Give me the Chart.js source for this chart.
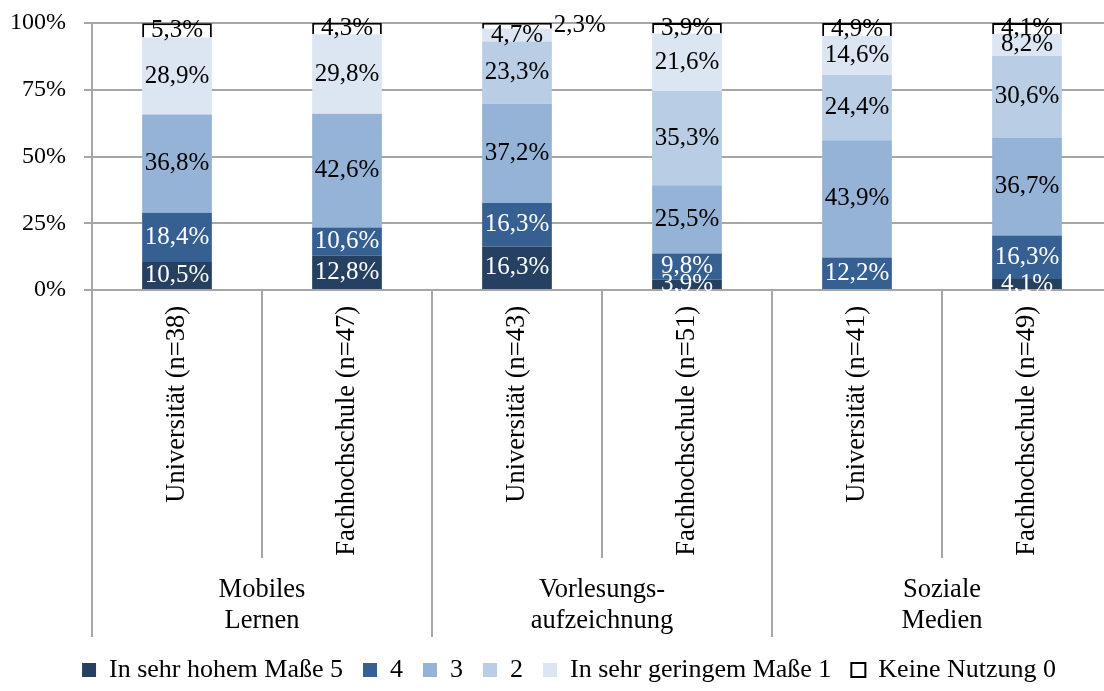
<!DOCTYPE html>
<html>
<head>
<meta charset="utf-8">
<script src="https://cdn.jsdelivr.net/npm/chart.js@4"></script>
<style>
  html, body { margin: 0; padding: 0; overflow: hidden; background: #fff; }
  #wrap { width: 1112px; height: 691px; }
</style>
</head>
<body>
<div id="wrap"><canvas id="myChart" width="1112" height="691"></canvas></div>
<script>
const categories = [
    'Universität (n=38)',
    'Fachhochschule (n=47)',
    'Universität (n=43)',
    'Fachhochschule (n=51)',
    'Universität (n=41)',
    'Fachhochschule (n=49)',
]
const groups = [
    ['Mobiles', 'Lernen'],
    ['Vorlesungs-', 'aufzeichnung'],
    ['Soziale', 'Medien'],
]
const seriesNames = [
    'In sehr hohem Maße 5',
    '4',
    '3',
    '2',
    'In sehr geringem Maße 1',
    'Keine Nutzung 0',
]
const level5 = [10.5, 12.8, 16.3, 3.9, 0, 4.1]
const level4 = [18.4, 10.6, 16.3, 9.8, 12.2, 16.3]
const level3 = [36.8, 42.6, 37.2, 25.5, 43.9, 36.7]
const level2 = [0, 0, 23.3, 35.3, 24.4, 30.6]
const level1 = [28.9, 29.8, 4.7, 21.6, 14.6, 8.2]
const level0 = [5.3, 4.3, 2.3, 3.9, 4.9, 4.1]
const yTicks = [0, 25, 50, 75, 100]

const fontFamily = "'Liberation Serif', 'Times New Roman', serif"
const gridGrey = '#a6a6a6'
const colors = ['#254061', '#376092', '#95b3d7', '#b9cde5', '#dce6f2', '#ffffff']

Chart.defaults.font.family = fontFamily
Chart.defaults.font.size = 26
Chart.defaults.color = '#000'

const seriesData = [level5, level4, level3, level2, level1, level0]
const datasets = seriesData.map((vals, i) => ({
    label: seriesNames[i],
    data: vals,
    backgroundColor: colors[i],
    borderColor: i === 5 ? '#000' : colors[i],
    borderWidth: i === 5 ? 2 : 0,
    barPercentage: 0.41,
    categoryPercentage: 1,
}))

// percentage labels in the middle of each segment
const valueLabels = {
    id: 'valueLabels',
    afterDatasetsDraw(chart) {
        const ctx = chart.ctx
        ctx.save()
        ctx.font = '25px ' + fontFamily
        ctx.textBaseline = 'middle'
        chart.data.datasets.forEach((ds, i) => {
            chart.getDatasetMeta(i).data.forEach((bar, j) => {
                const v = ds.data[j]
                if (!v) return
                const txt = v.toFixed(1).replace('.', ',') + '%'
                let x = bar.x
                const y = (bar.y + Math.min(bar.base, chart.chartArea.bottom)) / 2
                ctx.textAlign = 'center'
                if (v < 3) {
                    // too thin, put it next to the bar
                    x = bar.x + bar.width / 2 + 2
                    ctx.textAlign = 'left'
                }
                ctx.fillStyle = i < 2 ? '#fff' : '#000'
                ctx.fillText(txt, x, y)
            })
        })
        ctx.restore()
    }
}

// separators and group names under the category labels
const groupAxis = {
    id: 'groupAxis',
    afterLayout(chart) {
        // legend sits a bit right of the canvas centre
        chart.legend.left += 26
    },
    afterDraw(chart) {
        const xs = chart.scales.x
        const ctx = chart.ctx
        const step = xs.width / categories.length
        ctx.save()
        ctx.strokeStyle = gridGrey
        ctx.lineWidth = 2
        for (let i = 0; i <= categories.length; i++) {
            const px = Math.round(xs.left + i * step)
            const end = i % 2 === 0 ? xs.top + 347 : xs.top + 268
            ctx.beginPath()
            ctx.moveTo(px, xs.top)
            ctx.lineTo(px, end)
            ctx.stroke()
        }
        ctx.fillStyle = '#000'
        ctx.font = '26.5px ' + fontFamily
        ctx.textAlign = 'center'
        ctx.textBaseline = 'middle'
        groups.forEach((g, k) => {
            const cx = xs.left + (2 * k + 1) * step
            g.forEach((line, n) => ctx.fillText(line, cx, xs.top + 300 + n * 31))
        })
        ctx.restore()
    }
}

const config = {
    type: 'bar',
    data: {
        labels: categories,
        datasets: datasets,
    },
    options: {
        responsive: false,
        animation: false,
        layout: { padding: { top: 23, left: 0, right: 0, bottom: 0 } },
        plugins: {
            legend: {
                position: 'bottom',
                maxHeight: 54,
                labels: {
                    boxWidth: 14,
                    boxHeight: 14,
                    padding: 20,
                    font: { size: 26 },
                    color: '#000',
                }
            },
            tooltip: { enabled: false },
        },
        scales: {
            x: {
                stacked: true,
                grid: { display: false },
                border: { display: false },
                ticks: {
                    autoSkip: false,
                    minRotation: 90,
                    maxRotation: 90,
                    padding: 8,
                    color: '#000',
                    font: { size: 26.5 },
                },
                afterFit(scale) { scale.height = 347 },
            },
            y: {
                stacked: true,
                min: 0,
                max: 100,
                afterBuildTicks(scale) { scale.ticks = yTicks.map(v => ({ value: v })) },
                ticks: {
                    padding: 18,
                    color: '#000',
                    font: { size: 24, lineHeight: 0.3 },
                    callback: v => v + '%',
                },
                grid: { color: gridGrey, lineWidth: 2, tickLength: 8 },
                border: { display: true, color: gridGrey, width: 2 },
                afterFit(scale) { scale.width = 92 },
            }
        }
    },
    plugins: [valueLabels, groupAxis],
}

const myChart = new Chart(document.getElementById('myChart'), config)
</script>
</body>
</html>
